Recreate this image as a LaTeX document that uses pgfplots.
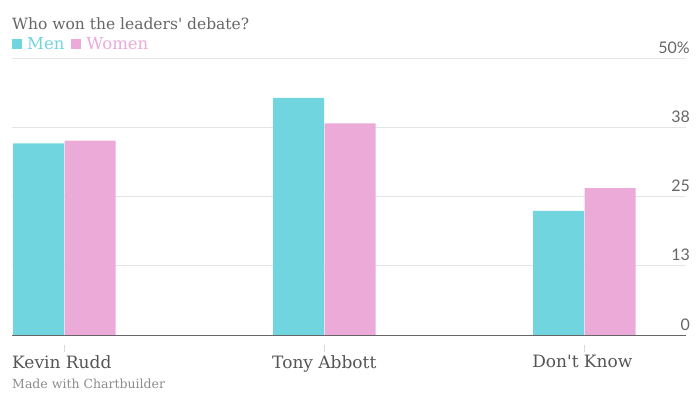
\documentclass[border=0pt]{standalone}
\usepackage{pgfplots}
\pgfplotsset{compat=1.18}
\usepackage{fontspec}
\setmainfont{DejaVu Serif}
\newfontfamily\ticksfont{Lato}
\definecolor{menc}{HTML}{71D5E0}
\definecolor{womenc}{HTML}{EBAAD7}
\definecolor{txt}{HTML}{666666}
\definecolor{lbl}{HTML}{555555}
\begin{document}
\begin{tikzpicture}
\path[use as bounding box] (0pt,0pt) rectangle (700pt,-394pt);
\begin{axis}[at={(12pt,-335pt)}, anchor=south west, scale only axis,
  width=674pt, height=277pt,
  xmin=-0.2, xmax=2.392, ymin=0, ymax=50,
  ybar, bar width=51pt,
  axis line style={draw=none},
  clip=false,
  xtick={0,1,2}, xticklabels={Kevin Rudd, Tony Abbott, Don\textquotesingle t Know},
  x tick style={draw=none},
  xticklabel style={anchor=north west, xshift=-52pt, yshift=-16pt, font=\fontsize{17}{19}\selectfont, text=lbl, inner sep=0pt},
  ytick={0,12.5,25,37.5,50}, yticklabels={0,13,25,38,50\%},
  yticklabel pos=right, y tick style={draw=none},
  yticklabel style={anchor=base east, xshift=4pt, yshift=5pt, font=\ticksfont\fontsize{16}{18}\selectfont, text=txt, inner sep=0pt},
  /pgf/number format/assume math mode=true,
  ymajorgrids, grid style={draw=black!10, line width=0.8pt},
  legend style={at={(0,1)}, anchor=south west, yshift=5pt, draw=none, fill=none, inner sep=0pt,
    legend columns=2, font=\fontsize{16.5}{18}\selectfont, column sep=3pt,
    /tikz/every even column/.append style={column sep=5pt}},
  legend image code/.code={\fill[#1] (0pt,-5pt) rectangle (10pt,5pt);},
]
\addplot[fill=menc, draw=none, bar shift=-25.5pt] coordinates {(0,34.6) (1,42.8) (2,22.4)};
\addplot[fill=womenc, draw=none, bar shift=26pt] coordinates {(0,35.1) (1,38.2) (2,26.5)};
\legend{\textcolor{menc}{Men},\textcolor{womenc}{Women}}
\draw[black!60, line width=1pt] (axis cs:-0.2,0) -- (axis cs:2.392,0);
\draw[black!15] ([yshift=-10pt]axis cs:0,0) -- ([yshift=-17pt]axis cs:0,0);
\draw[black!15] ([yshift=-10pt]axis cs:1,0) -- ([yshift=-17pt]axis cs:1,0);
\draw[black!15] ([yshift=-10pt]axis cs:2,0) -- ([yshift=-17pt]axis cs:2,0);
\end{axis}
\node[anchor=base west, inner sep=0pt, text=txt, font=\fontsize{15.5}{17}\selectfont] at (12pt,-29pt) {Who won the leaders\textquotesingle\ debate?};
\node[anchor=base west, inner sep=0pt, text=black!45, font=\fontsize{12.5}{14}\selectfont] at (12pt,-388pt) {Made with Chartbuilder};
\end{tikzpicture}
\end{document}
